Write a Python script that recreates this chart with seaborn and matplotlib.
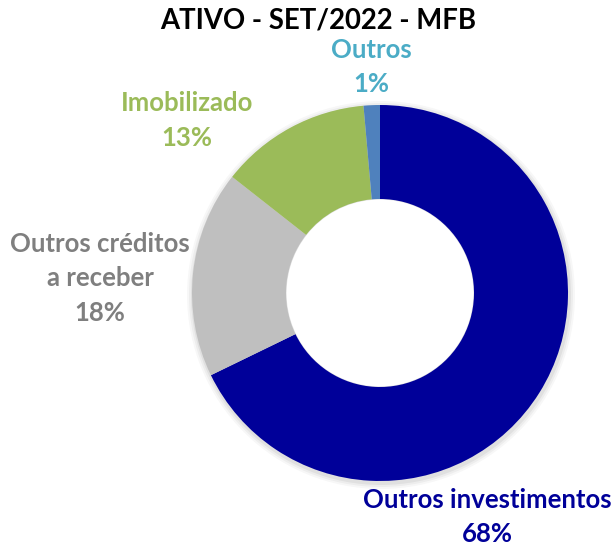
import numpy as np
import matplotlib
matplotlib.use("Agg")
import matplotlib.pyplot as plt
import seaborn as sns

# data (clockwise from top)
categories = ["Outros investimentos", "Outros créditos\na receber", "Imobilizado", "Outros"]
values = [67.8, 17.8, 13.0, 1.4]
wedge_colors = ["#000099", "#BFBFBF", "#9BBB59", "#4F81BD"]
label_colors = ["#000099", "#7F7F7F", "#9BBB59", "#4BACC6"]
title = "ATIVO - SET/2022 - MFB"

sns.set_theme(style="white")
plt.rcParams["font.family"] = ["Lato", "DejaVu Sans"]

W, H = 615, 545
fig = plt.figure(figsize=(W / 100, H / 100), dpi=100)
ax = fig.add_axes([0, 0, 1, 1])

cx, cy, r = 380, H - 293, 188

# soft shadow behind the ring
for k, a in enumerate([0.05, 0.04, 0.03]):
    ax.add_patch(plt.Circle((cx + 1, cy - 2), r + 2 + 2 * k, color="black", alpha=a,
                            lw=0, zorder=0))
ax.add_patch(plt.Circle((cx, cy), r * 0.5 - 0.5, color="white", lw=0, zorder=0.5))

wedges, _ = ax.pie(values, colors=wedge_colors, startangle=90, counterclock=False,
                   center=(cx, cy), radius=r, wedgeprops=dict(width=r * 0.5, linewidth=0))

ax.set_xlim(0, W)
ax.set_ylim(0, H)
ax.set_aspect("equal")
ax.axis("off")

# label positions in pixels (x center, y of first line)
label_pos = [(487, 500), (100, 244), (187, 103), (371, 50)]
for cat, v, col, (lx, ly) in zip(categories, values, label_colors, label_pos):
    lines = f"{cat}\n{v:.0f}%".split("\n")
    for i, line in enumerate(lines):
        ax.text(lx, H - (ly + 34.5 * i), line, ha="center", va="center", color=col,
                fontsize=18.5, fontweight="bold")

ax.text(318, H - 20, title, ha="center", va="center", color="black", fontsize=19.8,
        fontweight="bold")

fig.savefig("out.png", dpi=100)
